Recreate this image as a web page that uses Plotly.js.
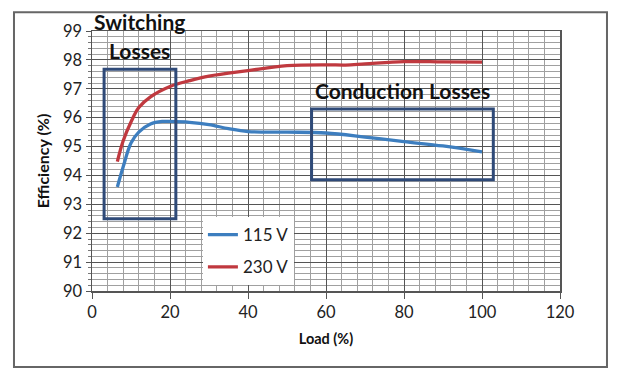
<!DOCTYPE html>
<html><head><meta charset="utf-8">
<script src="https://cdn.plot.ly/plotly-3.0.1.min.js"></script>
<style>html,body{margin:0;padding:0;background:#fff;}#chart{width:630px;height:377px;}</style>
</head><body><div id="chart"></div>
<script>
const load115 = [6.5, 8, 10, 12, 15, 18, 20, 25, 30, 35, 40, 50, 60, 70, 80, 90, 100];
const eff115  = [93.6, 94.3, 95.12, 95.5, 95.78, 95.87, 95.87, 95.84, 95.76, 95.62, 95.52, 95.5, 95.47, 95.33, 95.17, 95.02, 94.82];
const load230 = [6.5, 8, 10, 12, 15, 20, 25, 30, 40, 50, 60, 65, 70, 80, 90, 100];
const eff230  = [94.48, 95.2, 95.85, 96.35, 96.72, 97.08, 97.28, 97.44, 97.63, 97.8, 97.83, 97.82, 97.86, 97.94, 97.93, 97.92];
const seriesNames = ["115 V", "230 V"];
const xTicks = [0, 20, 40, 60, 80, 100, 120];
const yTicks = [90, 91, 92, 93, 94, 95, 96, 97, 98, 99];
const switchBox = {x0: 3.1, x1: 21.5, y0: 92.5, y1: 97.68};
const condBox = {x0: 56.3, x1: 102.9, y0: 93.85, y1: 96.3};

const font = "Lato, 'Open Sans', sans-serif";
const boxColor = "#2f4a78";

const traces = [
  {x: load115, y: eff115, name: seriesNames[0], mode: "lines", legendgroup: "a",
   line: {color: "#3d7ebf", width: 3.3, shape: "spline", smoothing: 1}},
  {x: load230, y: eff230, name: seriesNames[1], mode: "lines", legendgroup: "b",
   line: {color: "#c0393f", width: 3.3, shape: "spline", smoothing: 1}}
];

const layout = {
  width: 630, height: 377,
  margin: {l: 92, r: 70, t: 31, b: 86},
  paper_bgcolor: "#ffffff", plot_bgcolor: "#ffffff",
  font: {family: font, color: "#222", size: 16},
  showlegend: true,
  legend: {x: 0.237, y: 0.284, xanchor: "left", yanchor: "top", bgcolor: "#ffffff",
           font: {size: 17, color: "#222"}, tracegroupgap: 7, itemwidth: 30},
  xaxis: {range: [0, 120], tickvals: xTicks, ticks: "outside", ticklen: 6, tickcolor: "#555",
          showline: true, linecolor: "#555", linewidth: 1.5, mirror: true,
          showgrid: true, gridcolor: "#555", gridwidth: 1, zeroline: false,
          minor: {dtick: 4, showgrid: true, gridcolor: "#a0a0a0", gridwidth: 1, ticks: ""},
          tickfont: {size: 16.5, color: "#222"},
          title: {text: "<b>Load (%)</b>", font: {size: 14.5, color: "#111"}, standoff: 12}},
  yaxis: {range: [90, 99], tickvals: yTicks, ticks: "outside", ticklen: 5, tickcolor: "#555",
          showline: true, linecolor: "#555", linewidth: 1.5, mirror: true,
          showgrid: true, gridcolor: "#555", gridwidth: 1, zeroline: false,
          minor: {dtick: 0.2, showgrid: true, gridcolor: "#a0a0a0", gridwidth: 1, ticks: "outside", ticklen: 3, tickcolor: "#777"},
          tickfont: {size: 16.5, color: "#222"},
          title: {text: "<b>Efficiency (%)</b>", font: {size: 16, color: "#111"}, standoff: 9}},
  shapes: [
    {type: "rect", xref: "x", yref: "y", x0: switchBox.x0, x1: switchBox.x1, y0: switchBox.y0, y1: switchBox.y1,
     line: {color: boxColor, width: 3}},
    {type: "rect", xref: "x", yref: "y", x0: condBox.x0, x1: condBox.x1, y0: condBox.y0, y1: condBox.y1,
     line: {color: boxColor, width: 3}},
    {type: "rect", xref: "paper", yref: "paper", x0: -0.1667, x1: 1.1004, y0: -0.292, y1: 1.0718,
     line: {color: "#666", width: 2}, layer: "below"}
  ],
  annotations: [
    {x: 12.3, y: 1.036, xref: "x", yref: "paper", xanchor: "center", yanchor: "middle",
     text: "<b>Switching</b>", showarrow: false, font: {size: 21, color: "#111"}},
    {x: 12.3, y: 98.34, xref: "x", yref: "y", xanchor: "center", yanchor: "middle",
     text: "<b>Losses</b>", showarrow: false, font: {size: 21, color: "#111"}},
    {x: 79.5, y: 96.95, xref: "x", yref: "y", xanchor: "center", yanchor: "middle",
     text: "<b>Conduction Losses</b>", showarrow: false, font: {size: 21, color: "#111"}}
  ]
};

Plotly.newPlot("chart", traces, layout, {staticPlot: true, displayModeBar: false});
</script></body></html>
